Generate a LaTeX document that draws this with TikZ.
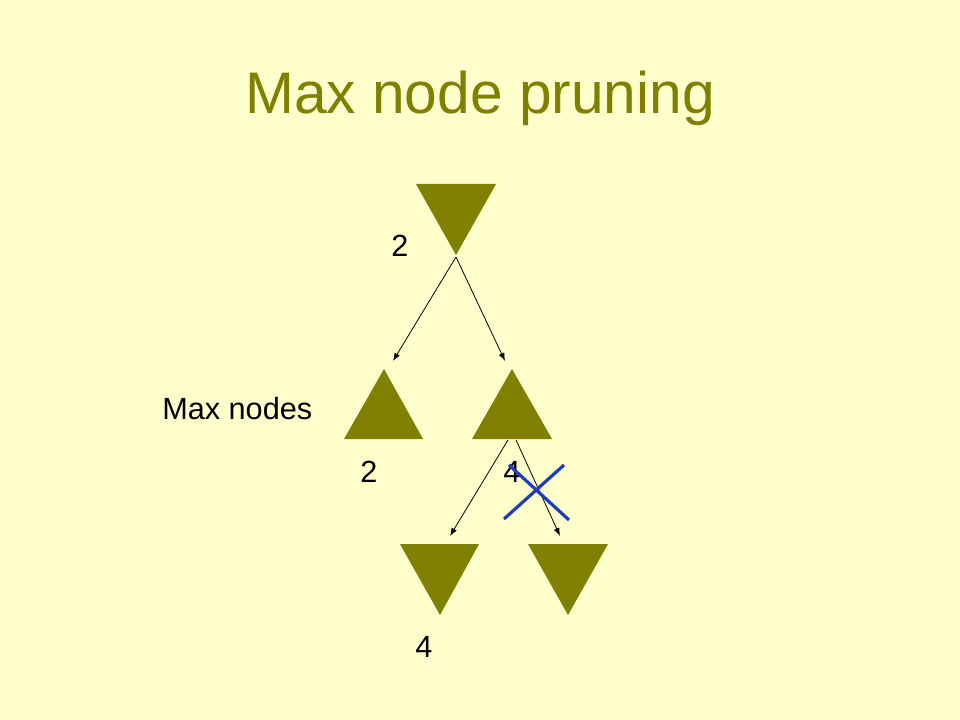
\documentclass[tikz,border=0pt]{standalone}
\usepackage{fontspec}
\setmainfont{Liberation Sans}
\usetikzlibrary{arrows.meta}
\definecolor{bg}{HTML}{FFFFCC}
\definecolor{olivetri}{HTML}{808000}
\definecolor{crossblue}{RGB}{30,60,190}
\tikzset{
  tri/.style={fill=olivetri, draw=none},
  edge/.style={draw=black, line width=0.6pt, -{Latex[length=6pt,width=4.5pt]}},
  lbl/.style={font=\fontsize{23}{27}\selectfont, inner sep=0pt, anchor=center},
  cross/.style={draw=crossblue, line width=2.4pt},
}
\begin{document}
\begin{tikzpicture}[x=0.75pt,y=-0.75pt]
\fill[bg] (0,0) rectangle (960,720);
\useasboundingbox (0,0) rectangle (960,720);
% title
\node[font=\fontsize{44}{52}\selectfont, text=olivetri, anchor=base, inner sep=0pt] (title) at (480,114) {Max node pruning};
% triangles
\fill[tri] (416,184) -- (496,184) -- (456,255) -- cycle;
\fill[tri] (344,439) -- (423,439) -- (384,369) -- cycle;
\fill[tri] (472,439) -- (552,439) -- (512,369) -- cycle;
\fill[tri] (400,544) -- (479,544) -- (440,615) -- cycle;
\fill[tri] (528,544) -- (608,544) -- (568,615) -- cycle;
% connector endpoints
\coordinate (root) at (456,257);
\coordinate (mL) at (393,361);
\coordinate (mR) at (505,361);
\coordinate (mRa) at (508,440);
\coordinate (mRb) at (516,440);
\coordinate (bL) at (450,536);
\coordinate (bR) at (560,536);
\draw[edge] (root) -- (mL);
\draw[edge] (root) -- (mR);
\draw[edge] (mRa) -- (bL);
\draw[edge] (mRb) -- (bR);
% labels
\node[lbl] (v0) at (400,246) {2};
\node[lbl, anchor=base west] (maxlbl) at (162,419) {Max nodes};
\node[lbl] (v1) at (369,472) {2};
\node[lbl] (v2) at (512,472) {4};
\node[lbl] (v3) at (424,647) {4};
% cross
\coordinate (c1) at (509,465);
\coordinate (c2) at (569,520);
\coordinate (c3) at (504,519);
\coordinate (c4) at (564,465);
\draw[cross] (c1) -- (c2);
\draw[cross] (c3) -- (c4);
\end{tikzpicture}
\end{document}
